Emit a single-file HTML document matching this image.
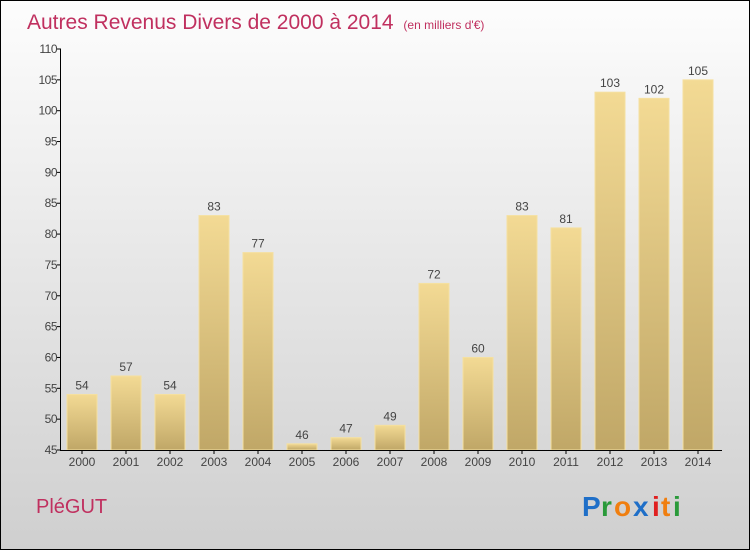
<!DOCTYPE html>
<html><head><meta charset="utf-8"><style>
body{margin:0;}
#c{position:relative;width:750px;height:550px;}
text{font-family:"Liberation Sans",sans-serif;}
</style></head><body>
<div id="c">
<svg id="s" width="750" height="550" xmlns="http://www.w3.org/2000/svg">
<defs>
<linearGradient id="bg" x1="0" y1="0" x2="0" y2="1"><stop offset="0" stop-color="#fdfdfd"/><stop offset="1" stop-color="#cfcfcf"/></linearGradient>
<linearGradient id="bar" x1="0" y1="0" x2="0" y2="1"><stop offset="0" stop-color="#f3da94"/><stop offset="1" stop-color="#c0a767"/></linearGradient>
</defs>
<rect x="0.5" y="0.5" width="749" height="549" fill="url(#bg)" stroke="#000"/>
<text x="27" y="29" font-size="21" fill="#c0305f">Autres Revenus Divers de 2000 à 2014 <tspan font-size="12" dx="4">(en milliers d'€)</tspan></text>
<g id="bars"></g>
<g id="axes"></g>
<text x="36" y="513" font-size="20" fill="#c0305f">PléGUT</text>
<g font-size="28" font-weight="bold" font-family="Liberation Sans,sans-serif">
<text x="582" y="516" fill="#1f6fc8">P</text><text x="601" y="516" fill="#2a9a3a">r</text><text x="614" y="516" fill="#f07f10">o</text><text x="633" y="516" fill="#1f6fc8">x</text><text x="652" y="516" fill="#e02020">i</text><text x="661" y="516" fill="#f07f10">t</text><text x="673" y="516" fill="#2a9a3a">i</text>
</g>
</svg></div>
<script>
const categories=["2000","2001","2002","2003","2004","2005","2006","2007","2008","2009","2010","2011","2012","2013","2014"];
const values=[54,57,54,83,77,46,47,49,72,60,83,81,103,102,105];
const yTicks=[45,50,55,60,65,70,75,80,85,90,95,100,105,110];
const NS="http://www.w3.org/2000/svg";
const y=v=>450-(v-45)*(401/65);
const x=i=>82+44*i;
const bars=document.getElementById('bars'),axes=document.getElementById('axes');
function mk(t,a,p){const e=document.createElementNS(NS,t);for(const k in a)e.setAttribute(k,a[k]);p.appendChild(e);return e;}
values.forEach((v,i)=>{
 const r=mk('rect',{x:x(i)-15,y:y(v),width:30,height:450-y(v),fill:'url(#bar)',stroke:'#f5e0a0','stroke-width':1},bars);
 
 
 const t=mk('text',{x:x(i),y:y(v)-5,'text-anchor':'middle','font-size':12,fill:'#444'},bars);
 t.textContent=v;
 
 
 const l=mk('text',{x:x(i),y:466,'text-anchor':'middle','font-size':12,fill:'#444'},axes);
 l.textContent=categories[i];
 
 
 mk('line',{x1:x(i),x2:x(i),y1:450,y2:454,stroke:'#000'},axes);
});
yTicks.forEach(v=>{
 mk('line',{x1:57,x2:61,y1:y(v),y2:y(v),stroke:'#000'},axes);
 const t=mk('text',{x:57,y:y(v)+4,'text-anchor':'end','font-size':12,fill:'#444','letter-spacing':'-0.5'},axes);
 t.textContent=v;
 
 
});
const ya=mk('line',{x1:60.5,x2:60.5,y1:49,y2:450,stroke:'#000'},axes);


const xa=mk('line',{x1:60,x2:722,y1:450.5,y2:450.5,stroke:'#000'},axes);


</script>
</body></html>
